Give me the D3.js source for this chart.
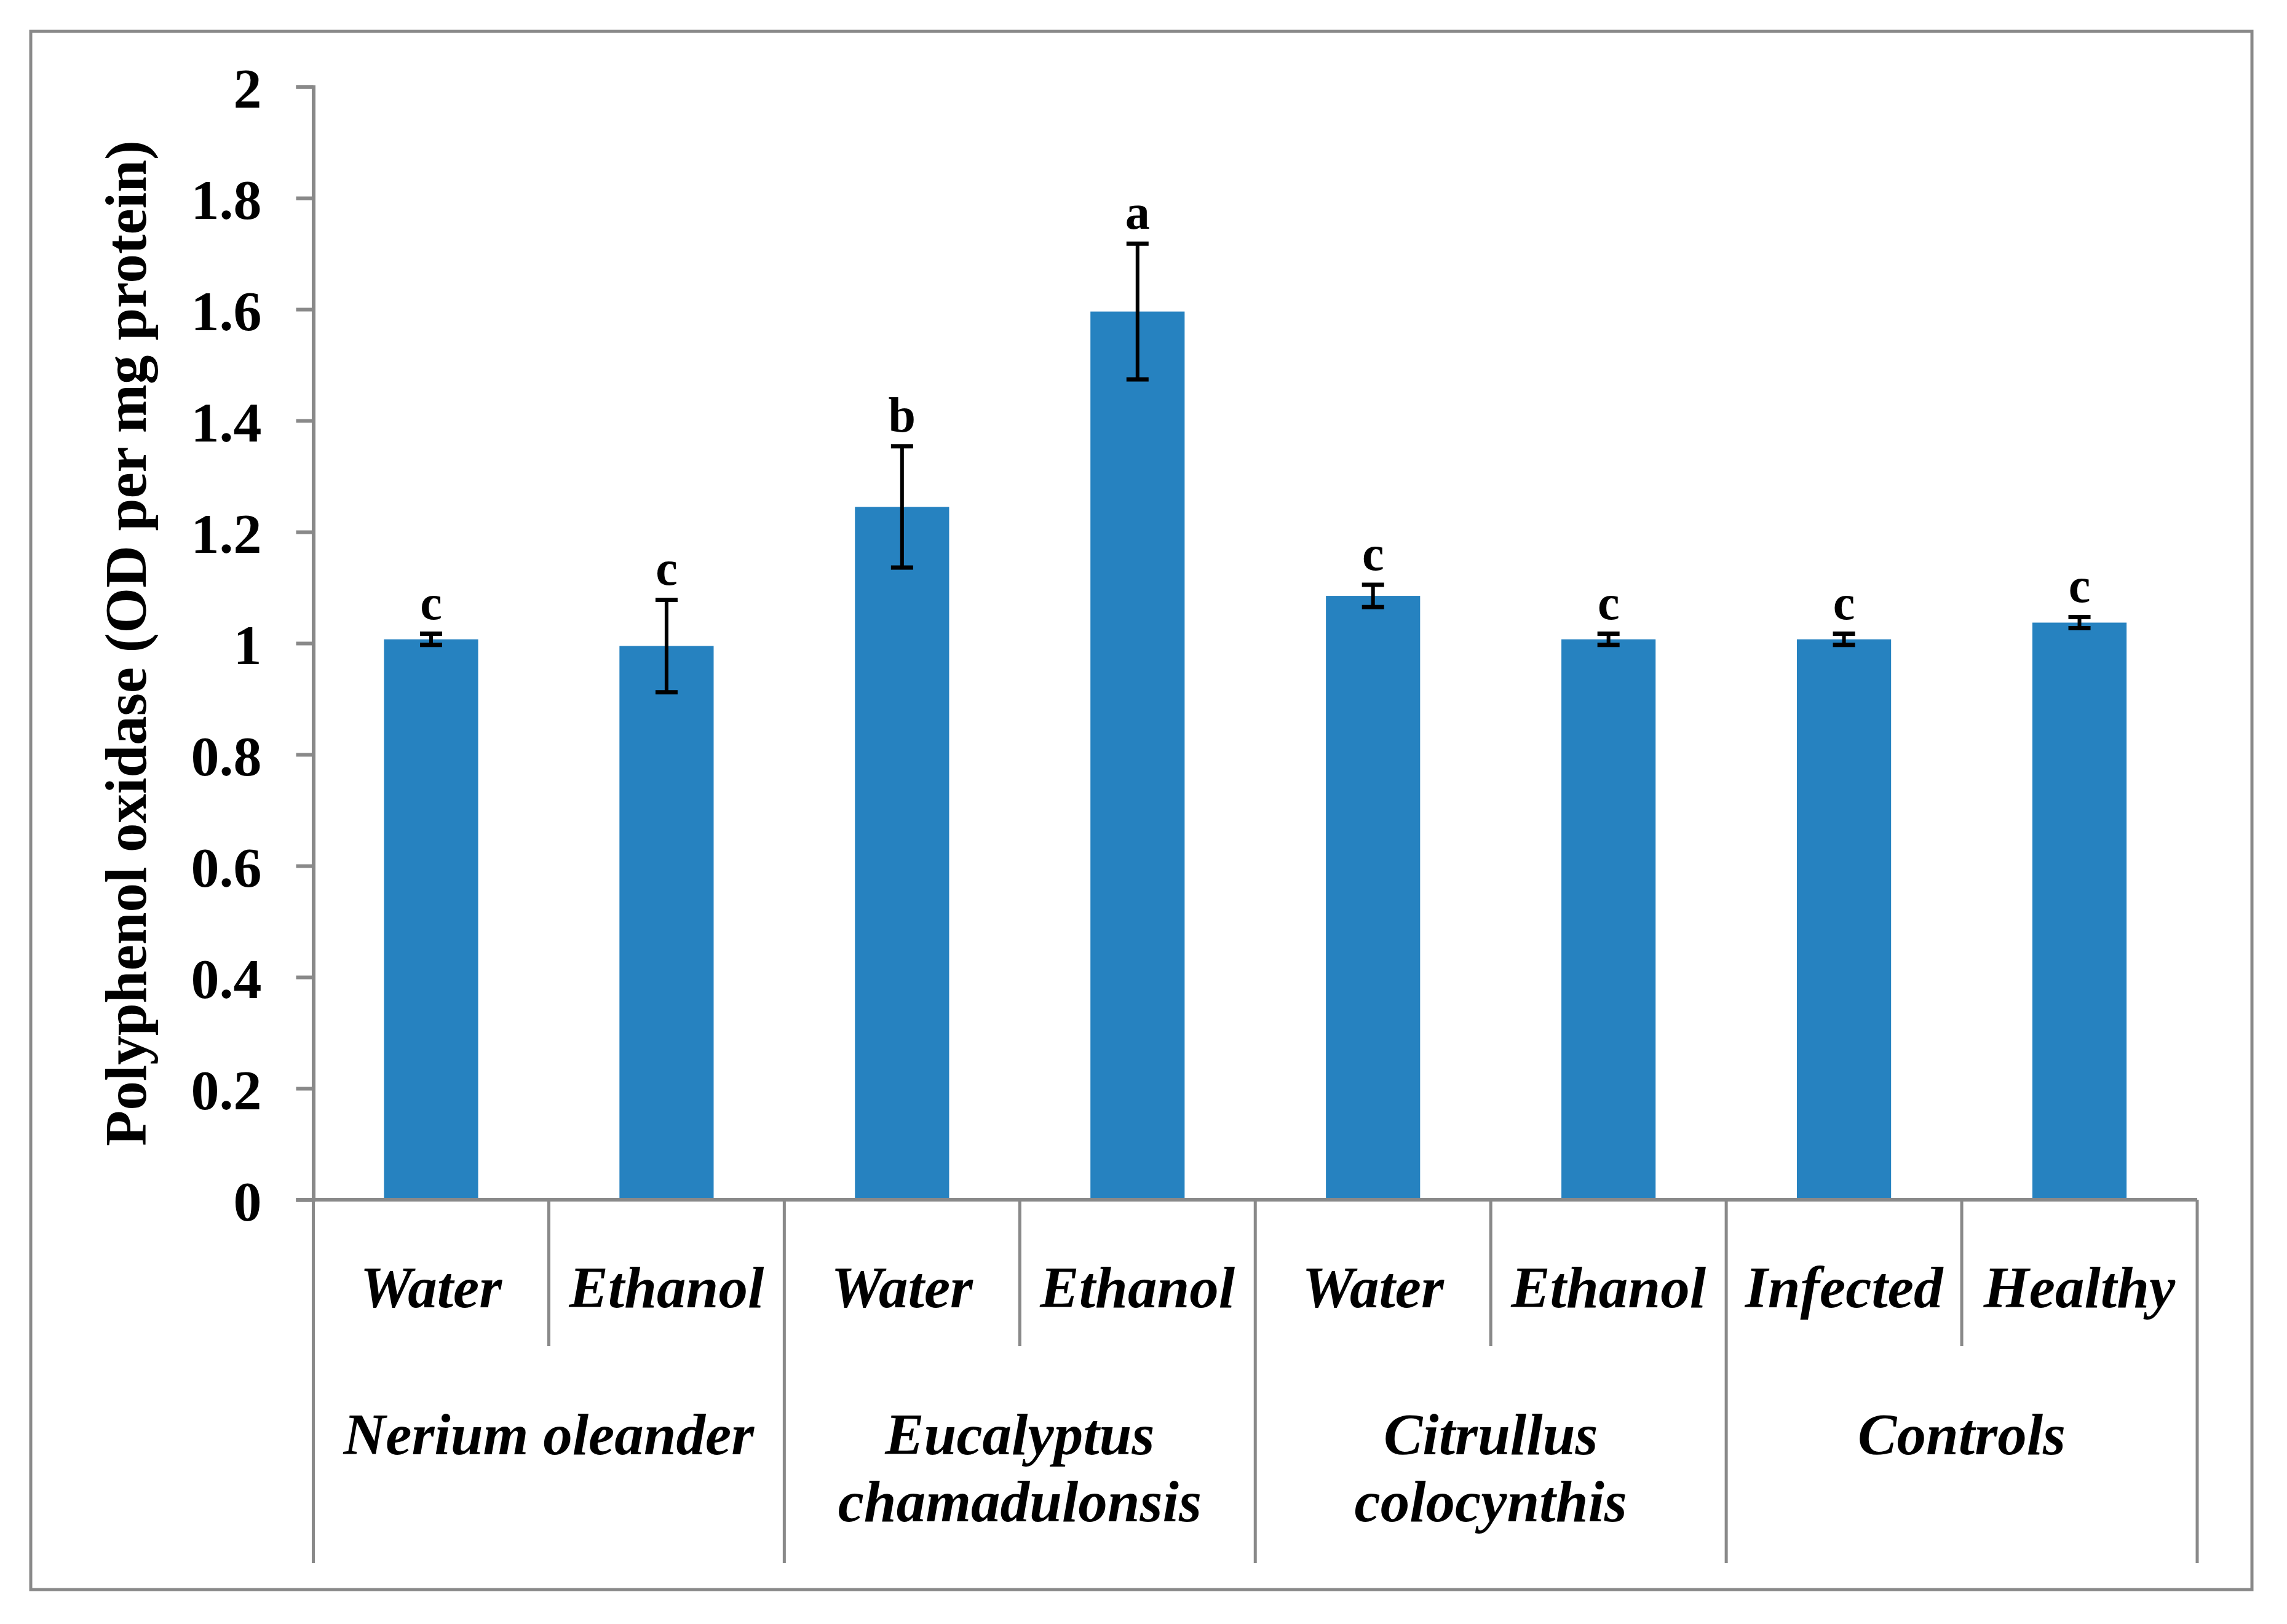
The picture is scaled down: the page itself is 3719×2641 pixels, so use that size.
<!DOCTYPE html>
<html>
<head>
<meta charset="utf-8">
<script src="https://cdn.jsdelivr.net/npm/d3@7"></script>
<style>
  html, body { margin: 0; padding: 0; background: #fff; }
  text { font-family: "Liberation Serif", "Times New Roman", serif; fill: #000; }
</style>
</head>
<body>
<svg id="chart" width="3719" height="2641"></svg>
<script>
// values
var treatments = ['Water', 'Ethanol', 'Water', 'Ethanol', 'Water', 'Ethanol', 'Infected', 'Healthy'];
var groupOf = [0, 0, 1, 1, 2, 2, 3, 3];
var groupLabels = [['Nerium oleander'], ['Eucalyptus', 'chamadulonsis'], ['Citrullus', 'colocynthis'], ['Controls']];
var means = [1.007, 0.995, 1.245, 1.596, 1.085, 1.007, 1.007, 1.037];
var errors = [0.010, 0.083, 0.109, 0.122, 0.020, 0.010, 0.010, 0.010];
var letters = ['c', 'c', 'b', 'a', 'c', 'c', 'c', 'c'];
var yTicks = [0, 0.2, 0.4, 0.6, 0.8, 1, 1.2, 1.4, 1.6, 1.8, 2];
var yTitle = 'Polyphenol oxidase (OD per mg protein)';

var GRAY = '#898989';
var BLUE = '#2682c0';

var svg = d3.select('#chart');

var plot = { left: 509.5, right: 3573, top: 141, bottom: 1951 };

var x = d3.scaleBand()
  .domain(d3.range(treatments.length))
  .range([plot.left, plot.right])
  .paddingInner(0.6)
  .paddingOuter(0.3);

var step = x.step();

var y = d3.scaleLinear()
  .domain([0, 2])
  .range([plot.bottom, plot.top]);

// outer frame
svg.append('rect')
  .attr('x', 50)
  .attr('y', 51)
  .attr('width', 3612)
  .attr('height', 2534)
  .attr('fill', 'none')
  .attr('stroke', GRAY)
  .attr('stroke-width', 5);

// bars
svg.append('g').selectAll('rect')
  .data(means)
  .enter().append('rect')
  .attr('x', function(d, i) { return x(i); })
  .attr('y', function(d) { return y(d); })
  .attr('width', x.bandwidth())
  .attr('height', function(d) { return y(0) - y(d); })
  .attr('fill', BLUE);

// y axis
var yAxis = d3.axisLeft(y)
  .tickValues(yTicks)
  .tickFormat(function(d) { return String(d); })
  .tickSize(28)
  .tickPadding(56);

var gy = svg.append('g')
  .attr('transform', 'translate(' + plot.left + ',0)')
  .call(yAxis);

gy.select('.domain').attr('stroke', GRAY).attr('stroke-width', 6);
gy.selectAll('.tick line').attr('stroke', GRAY).attr('stroke-width', 6);
gy.selectAll('.tick text')
  .attr('font-size', 92)
  .attr('font-weight', 'bold')
  .attr('dy', '0.36em')
  .style('font-family', '"Liberation Serif", "Times New Roman", serif')
  .attr('fill', '#000');

// x axis baseline
svg.append('line')
  .attr('x1', plot.left - 28)
  .attr('x2', plot.right)
  .attr('y1', y(0))
  .attr('y2', y(0))
  .attr('stroke', GRAY)
  .attr('stroke-width', 6);

// category separators: short inside a group, long at group edges
var boundaries = d3.range(treatments.length + 1);
svg.append('g').selectAll('line')
  .data(boundaries)
  .enter().append('line')
  .attr('x1', function(b) { return plot.left + b * step; })
  .attr('x2', function(b) { return plot.left + b * step; })
  .attr('y1', y(0))
  .attr('y2', function(b) {
    var isGroupEdge = b === 0 || b === treatments.length || groupOf[b] !== groupOf[b - 1];
    return isGroupEdge ? 2542 : 2189;
  })
  .attr('stroke', GRAY)
  .attr('stroke-width', 5);

// treatment labels
svg.append('g').selectAll('text')
  .data(treatments)
  .enter().append('text')
  .attr('x', function(d, i) { return x(i) + x.bandwidth() / 2; })
  .attr('y', 2126)
  .attr('text-anchor', 'middle')
  .attr('font-size', 95)
  .attr('font-weight', 'bold')
  .attr('font-style', 'italic')
  .text(function(d) { return d; });

// group labels
var groupText = svg.append('g').selectAll('text')
  .data(groupLabels)
  .enter().append('text')
  .attr('x', function(d, gi) {
    var members = d3.range(treatments.length).filter(function(i) { return groupOf[i] === gi; });
    return plot.left + (members[0] + members.length / 2) * step;
  })
  .attr('y', 2365)
  .attr('text-anchor', 'middle')
  .attr('font-size', 95)
  .attr('font-weight', 'bold')
  .attr('font-style', 'italic');

groupText.each(function(lines) {
  var t = d3.select(this);
  var gx = t.attr('x');
  lines.forEach(function(line, li) {
    t.append('tspan')
      .attr('x', gx)
      .attr('dy', li === 0 ? 0 : 109)
      .text(line);
  });
});

// error bars
var capHalf = 18;
var err = svg.append('g').selectAll('g')
  .data(means)
  .enter().append('g')
  .attr('stroke', '#000');

err.append('line')
  .attr('x1', function(d, i) { return x(i) + x.bandwidth() / 2; })
  .attr('x2', function(d, i) { return x(i) + x.bandwidth() / 2; })
  .attr('y1', function(d, i) { return y(d + errors[i]); })
  .attr('y2', function(d, i) { return y(d - errors[i]); })
  .attr('stroke-width', 6);

[1, -1].forEach(function(sign) {
  err.append('line')
    .attr('x1', function(d, i) { return x(i) + x.bandwidth() / 2 - capHalf; })
    .attr('x2', function(d, i) { return x(i) + x.bandwidth() / 2 + capHalf; })
    .attr('y1', function(d, i) { return y(d + sign * errors[i]); })
    .attr('y2', function(d, i) { return y(d + sign * errors[i]); })
    .attr('stroke-width', 7);
});

// significance letters
svg.append('g').selectAll('text')
  .data(letters)
  .enter().append('text')
  .attr('x', function(d, i) { return x(i) + x.bandwidth() / 2; })
  .attr('y', function(d, i) { return y(means[i] + errors[i]) - 24; })
  .attr('text-anchor', 'middle')
  .attr('font-size', 80)
  .attr('font-weight', 'bold')
  .text(function(d) { return d; });

// y axis title
svg.append('text')
  .attr('transform', 'translate(237,' + ((plot.top + plot.bottom) / 2) + ') rotate(-90)')
  .attr('text-anchor', 'middle')
  .attr('font-size', 95)
  .attr('font-weight', 'bold')
  .text(yTitle);
</script>
</body>
</html>
